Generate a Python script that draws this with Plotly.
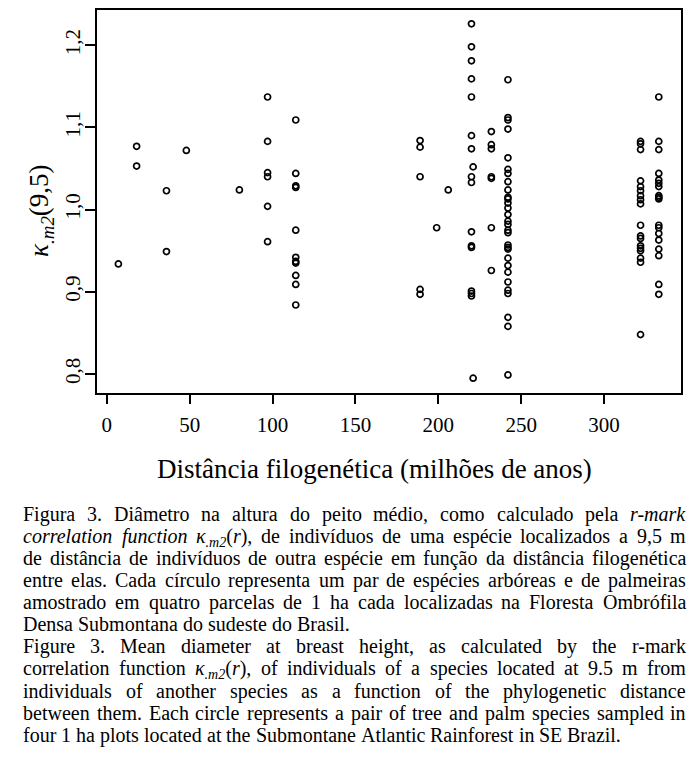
import re
import plotly.graph_objects as go

# ---------------- data ----------------
distances = [7, 18, 36, 48, 80, 97, 114, 189, 199, 206, 220, 221, 232, 242, 322, 333]
kappa_by_distance = [
    [0.934],
    [1.077, 1.053],
    [1.023, 0.949],
    [1.072],
    [1.024],
    [1.137, 1.083, 1.045, 1.040, 1.004, 0.961],
    [1.109, 1.044, 1.029, 1.027, 0.975, 0.942, 0.937, 0.935, 0.920, 0.909, 0.884],
    [1.084, 1.076, 1.040, 0.903, 0.897],
    [0.978],
    [1.024],
    [1.226, 1.198, 1.181, 1.159, 1.137, 1.090, 1.074, 1.040, 1.033, 0.973, 0.956, 0.954, 0.901, 0.898, 0.895],
    [1.052, 0.795],
    [1.095, 1.079, 1.074, 1.040, 1.038, 0.978, 0.926],
    [1.158, 1.112, 1.109, 1.098, 1.063, 1.049, 1.044, 1.034, 1.024, 1.015, 1.013, 1.008, 1.002, 0.994, 0.986,
     0.982, 0.975, 0.972, 0.957, 0.954, 0.952, 0.941, 0.932, 0.924, 0.912, 0.902, 0.898, 0.869, 0.858, 0.799],
    [1.083, 1.080, 1.073, 1.035, 1.028, 1.023, 1.017, 1.012, 1.007, 0.981, 0.968, 0.965, 0.956, 0.953, 0.950,
     0.941, 0.936, 0.848],
    [1.137, 1.083, 1.073, 1.044, 1.036, 1.032, 1.028, 1.017, 1.015, 1.013, 0.981, 0.978, 0.971, 0.963, 0.952,
     0.944, 0.909, 0.897],
]
x_tick_values = [0, 50, 100, 150, 200, 250, 300]
y_tick_values = [0.8, 0.9, 1.0, 1.1, 1.2]
y_tick_labels = ["0,8", "0,9", "1,0", "1,1", "1,2"]
x_title = "Distância filogenética (milhões de anos)"
y_title = "<i>κ</i><sub><i>.m2</i></sub>(9,5)"

caption_lines = [
    ("Figura 3. Diâmetro na altura do peito médio, como calculado pela <i>r-mark</i>", True),
    ("<i>correlation</i> <i>function</i> <i>κ</i><sub><i>.m2</i></sub>(<i>r</i>), de indivíduos de uma espécie localizados a 9,5 m", True),
    ("de distância de indivíduos de outra espécie em função da distância filogenética", True),
    ("entre elas. Cada círculo representa um par de espécies arbóreas e de palmeiras", True),
    ("amostrado em quatro parcelas de 1 ha cada localizadas na Floresta Ombrófila", True),
    ("Densa Submontana do sudeste do Brasil.", False),
    ("Figure 3. Mean diameter at breast height, as calculated by the r-mark", True),
    ("correlation function <i>κ</i><sub><i>.m2</i></sub>(<i>r</i>), of individuals of a species located at 9.5 m from", True),
    ("individuals of another species as a function of the phylogenetic distance", True),
    ("between them. Each circle represents a pair of tree and palm species sampled in", True),
    ("four 1 ha plots located at the Submontane Atlantic Rainforest in SE Brazil.", False),
]

px_x = []
px_y = []
for d, vals in zip(distances, kappa_by_distance):
    for v in vals:
        px_x.append(d)
        px_y.append(v)

# ---------------- layout geometry ----------------
# The page body has an 8 px margin, so the figure is shrunk and everything
# is placed relative to the browser window.
OFF = 8
W, H = 680, 749
ML, MR, MT, MB = 89, 7, 0, 364
PW = W - ML - MR
PH = H - MT - MB


def paper_x(px):
    return (px - OFF - ML) / PW


def paper_y(py):
    return (H - MB - (py - OFF)) / PH


# Times metrics (1/1000 em) for justification of the caption
_R = dict(zip("abcdefghijklmnopqrstuvwxyz",
              [444, 500, 444, 500, 444, 333, 500, 500, 278, 278, 500, 278, 778, 500, 500, 500, 500, 333, 389, 278,
               500, 500, 722, 500, 500, 444]))
_R.update(dict(zip("ABCDEFGHIJKLMNOPQRSTUVWXYZ",
                   [722, 667, 667, 722, 611, 556, 722, 722, 333, 389, 722, 611, 889, 722, 722, 556, 722, 667, 556,
                    611, 722, 722, 944, 722, 722, 611])))
_R.update({c: 500 for c in "0123456789"})
_R.update({" ": 250, ",": 250, ".": 250, "(": 333, ")": 333, "-": 333, "κ": 500})
_I = dict(_R)
_I.update(dict(zip("abcdefghijklmnopqrstuvwxyz",
                   [500, 500, 444, 500, 444, 278, 500, 500, 278, 278, 444, 278, 722, 500, 500, 500, 500, 389, 389,
                    278, 500, 444, 667, 444, 444, 389])))
_ACC = {"á": "a", "à": "a", "â": "a", "ã": "a", "é": "e", "ê": "e", "í": "i", "ó": "o", "ô": "o", "õ": "o",
        "ú": "u", "ç": "c", "Ó": "O"}


def text_width(s, fs):
    it = False
    sub = False
    w = 0.0
    for tok in re.split(r"(<[^>]+>)", s):
        if tok.startswith("<"):
            t = tok.lower()
            if t == "<i>":
                it = True
            elif t == "</i>":
                it = False
            elif t == "<sub>":
                sub = True
            elif t == "</sub>":
                sub = False
            continue
        for ch in tok:
            ch = _ACC.get(ch, ch)
            table = _I if it else _R
            w += table.get(ch, 500) * (0.7 if sub else 1.0)
    return w / 1000.0 * fs


CAP_FS = 20
CAP_FONT = dict(family="Liberation Serif", size=CAP_FS, color="black")
CAP_LEFT, CAP_RIGHT = 23, 686
BASE0, LINE_STEP = 521, 22.23

annotations = []
for i, (line, justify) in enumerate(caption_lines):
    baseline = BASE0 + i * LINE_STEP
    top = baseline - 0.891 * CAP_FS
    words = line.split(" ")
    widths = [text_width(wd, CAP_FS) for wd in words]
    if justify and len(words) > 1:
        gap = (CAP_RIGHT - CAP_LEFT - sum(widths)) / (len(words) - 1)
    else:
        gap = 0.25 * CAP_FS
    xpos = CAP_LEFT
    for wd, ww in zip(words, widths):
        annotations.append(dict(
            text=wd, x=paper_x(xpos), y=paper_y(top), xref="paper", yref="paper",
            xanchor="left", yanchor="top", showarrow=False, font=CAP_FONT,
            borderpad=0, borderwidth=0,
        ))
        xpos += ww + gap

# axis titles
annotations.append(dict(
    text=x_title, x=paper_x(374), y=paper_y(469), xref="paper", yref="paper",
    xanchor="center", yanchor="middle", showarrow=False,
    font=dict(family="Liberation Serif", size=27, color="black"), borderpad=0,
))
annotations.append(dict(
    text=y_title, x=paper_x(41), y=paper_y(210), xref="paper", yref="paper",
    xanchor="center", yanchor="middle", showarrow=False, textangle=-90,
    font=dict(family="Liberation Serif", size=27, color="black"), borderpad=0,
))

fig = go.Figure()
fig.add_trace(go.Scatter(
    x=px_x, y=px_y, mode="markers",
    marker=dict(symbol="circle-open", size=6, color="black", line=dict(width=1.7, color="black")),
    hoverinfo="skip", showlegend=False,
))

axis_common = dict(
    showline=True, mirror=True, linecolor="black", linewidth=1.7,
    ticks="outside", tickcolor="black", tickwidth=1.5,
    showgrid=False, zeroline=False,
    tickfont=dict(family="Liberation Serif", size=21, color="black"),
)
fig.update_xaxes(range=[-5.9, 346.4], tickmode="array", tickvals=x_tick_values,
                 ticktext=[str(v) for v in x_tick_values], ticklen=9, ticklabelstandoff=3, **axis_common)
fig.update_yaxes(range=[0.777, 1.2428], tickmode="array", tickvals=y_tick_values,
                 ticktext=y_tick_labels, ticklen=10, tickangle=-90, ticklabelstandoff=-3, **axis_common)

fig.update_layout(
    width=W, height=H, margin=dict(l=ML, r=MR, t=MT, b=MB, pad=0),
    paper_bgcolor="white", plot_bgcolor="white",
    font=dict(family="Liberation Serif", color="black"),
    annotations=annotations,
)

fig.write_html("out.html")
